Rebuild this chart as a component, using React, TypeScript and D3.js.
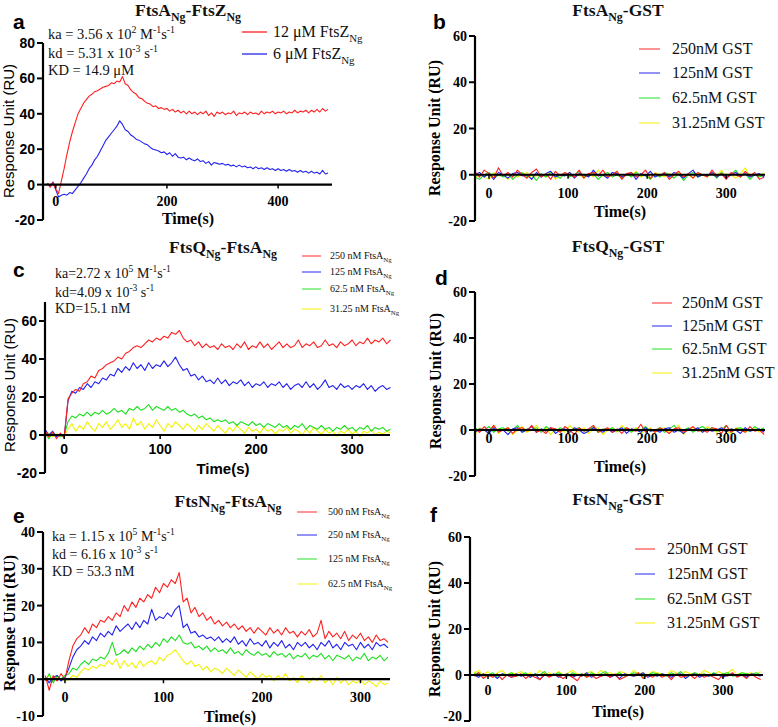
import React from 'react';
import * as d3 from 'd3';

// ---------- DATA ----------
// Panel a: FtsA-FtsZ, t from -15 s, every 5 s
const A_T0 = -15, A_DT = 5;
const aRed12uM = [0.8,-1.5,1.2,-2.5,-5,2,9,17,24,30,35,40,43,46,48,50,51,52.5,53,54,55,55.5,56,57.5,57,58.5,58,61,57,56,53.5,52,51,49,48.5,47,46,45.5,44,44.5,43,43.5,42.5,43,41.5,42.5,41,42,40.5,41.5,40,41.5,40,41,39.5,41,40,41.5,39,40.5,38.5,41,40,41,39.5,40.5,40,41.5,39,40.5,40,41,39.5,41,40,40.5,39.5,41.5,40,41,40.5,41.5,40,41,40.5,41.5,40,41,40.5,42,40.5,41.5,41,42,40.5,42,41,42.5,41,43,41.5,42.5];
const aBlue6uM = [0.5,-1,1.5,-3,-7,-6,-5.5,-6,-4.5,-5,-3,-1,1,3.5,6,9,11,14,16,19,22,25,27,29,31,33,36,34,31,30,28,27,25.5,25,24,23,22.5,21,20,19.5,19,18,18.5,17,18,16,17.5,15.5,15,15.5,14,15,14,13.5,14.5,13,13.5,12,13,11,12.5,12,11.5,12,11,11.5,10.5,11,10,11,10,10.5,9.5,10,9,10,9,9.5,8.5,9.5,8.5,9,8,9,8,8.5,7.5,8.5,7.5,8,7,8,7,7.5,6.5,7.5,6.5,7,6,8,6,6.5];

// Panel c: FtsQ-FtsA, t from -20 s, every 4 s
const C_T0 = -20, C_DT = 4;
const c250 = [2,-1,1.5,-2,1,-1.5,19,22,24,23,27,28,31,30,34,35,37,38,39,41,40,43,44,46,47,46,48,50,49,51,50,52,51,54,53,55,51,49,50,47,49,46,48,46,47,45,48,46,47,45,48,46,49,45,47,46,49,46,48,45,47,49,46,48,46,47,50,46,48,47,49,46,47,50,47,48,46,49,47,48,50,47,49,48,51,48,50,49,51,48,50];
const c125 = [3,0,2,-1,0.5,-1,18,23,22,25,24,27,25,28,27,30,29,32,31,35,33,36,34,38,35,37,34,38,35,37,36,39,36,38,41,37,34,35,31,32,29,31,28,29,27,30,27,29,26,28,27,29,26,28,25,27,26,28,25,27,26,28,25,27,24,26,27,25,28,25,27,24,26,29,25,26,24,27,25,26,24,26,25,27,24,26,23,25,26,24,25];
const c62 = [1,-2,1,0,-1,0,7,10,9,11,10,12,10,12,11,13,11,12,14,12,13,11,14,13,15,13,14,16,13,15,14,13,15,13,14,12,13,11,10,11,9,10,8,9,7,8,7,8,6,7,5,7,6,5,7,5,6,4,6,5,4,6,4,5,3,5,4,6,3,5,4,3,5,3,4,2,4,3,5,3,4,2,4,3,5,2,4,3,4,2,3];
const c31 = [0,1,-1,0.5,0,-0.5,3,6,2,5,3,7,4,2,6,4,7,3,5,8,4,6,3,9,5,7,3,6,4,8,5,2,6,4,7,5,3,6,4,2,5,3,6,4,2,5,3,1,4,2,5,3,1,4,2,3,1,4,2,3,0.5,3,2,4,1,3,2,0,3,1,4,2,0.5,3,1,2,-0.5,2,1,3,0.5,2,-1,2,1,3,0,1.5,0.5,2,1];

// Panel e: FtsN-FtsA, t from -20 s, every 4 s
const E_T0 = -20, E_DT = 4;
const e500 = [1,-3,1,-0.5,1.5,0,5,9,11,12,14,12.5,15,14,16,15.5,17,16,18,17,20,18.5,21,19.5,22,21,23,22,25,23.5,26,25,27,26,29,21,22,18,19.5,17,18,16,17,15,16,14.5,15.5,14,15,13.5,14.5,13,14,12.5,14,13,12,14,12.5,13.5,12,14,12.5,13,11.5,13,12,13.5,11.5,12.5,16,11,13,11.5,12.5,11,13,10.5,12,11,12.5,10.5,11.5,10,12,10.5,11,10];
const e250 = [0.5,-1,0.5,1,-0.5,0.5,3,6,8,9,10.5,9.5,11.5,10.5,12.5,11.5,13,12,14.5,13,14,15,13.5,15.5,14,16,15,19,16,17,16.5,18,17,19,20,14,15,12.5,13,11.5,12,11,11.5,10.5,11.5,10,11,10,11.5,9.5,10.5,9,11,9.5,10,9,10.5,8.5,10,9,10.5,8.5,9.5,8,10,9,10,8.5,9.5,8,10,9,10.5,8.5,9.5,8,10,9,9.5,8,10,8.5,9.5,8,10,9,9.5,8.5];
const e125 = [-0.5,1.5,-1,1,0,1,1.5,3,2.5,4,5,4,5.5,5,6,5.5,7,10,6.5,7,8,7,8.5,7.5,9,8,9.5,8.5,10,9,11,10,11.5,10.5,12,10,9.5,10,8.5,9,8,9,7.5,8.5,7.5,8,7,8.5,7,7.5,6.5,8,7,6.5,7.5,6.5,7,6,7.5,6.5,7,6,7,5.5,6.5,6,7,5.5,6.5,6,7,5.5,6.5,5,6.5,6,5.5,6.5,5,6,5.5,7,5,6,5.5,6.5,5,6];
const e62 = [0,1,-0.5,0.5,0,-0.5,0,1,0.5,2,3,2.5,3.5,3,4,3.5,5,4,5.5,3,5,3.5,4.5,3,5,3.5,4.5,5,4,6,5,6.5,7,8,6.5,5,4,5,3.5,4,2.5,3.5,2,3,2.5,1.5,3,2,1,2.5,1.5,0.5,2,1,0,1.5,0.5,1,-0.5,1,0,1.5,-0.5,0.5,-1,1,0,-1,0.5,-0.5,1,-1,0,-1.5,0.5,-1,0,-1.5,-0.5,-1,0,-1.5,-0.5,-1,-2,-0.5,-1.5,-1];

// GST controls, t from -18 s, every 6 s
const G_T0 = -18, G_DT = 6;
const b250 = [1.5,-1,2,0.5,-1.5,3,-0.5,1,-1,2,0,-1.5,1,2.5,-1,0.5,-2,1.5,-0.5,1,0,-1,2,-1.5,0.5,1,-0.5,2,-1,0,1.5,-2,0.5,1,-1,0,2,-1.5,0.5,-0.5,1,-2,0,1.5,-1,0.5,-1.5,1,0,-1,2,-0.5,0.5,-2,1,0,-1,1.5,-0.5,1,-2,-1];
const b125 = [0,1,-1,0.5,-2,1,0,-1.5,0.5,1,-0.5,0,-2,1,-1,0.5,1.5,-1,0,-0.5,1,-1.5,0.5,0,-1,2,-0.5,0,-1.5,1,0.5,-1,0,1,-2,0.5,-0.5,1.5,-1,0,0.5,-1,1,0,-1.5,0.5,2,-1,0,-0.5,1,-1,0.5,-1.5,0,1,-0.5,0.5,-1,0,0.5,-1];
const b62 = [-1,-2,0,1,-1.5,0,-1,0.5,-2,0,1,-1,0,-2.5,0.5,-1,1,0,-1.5,0.5,-1,0,1.5,-1,-0.5,0.5,-2,0,1,-1,0,-1.5,0.5,-1,1,-0.5,0,-2,0.5,-1,1,0,-1.5,0.5,-2.5,0,1,-1,0,-0.5,0.5,-1.5,1,-1,0,2,-1,0.5,-2,0,-1,0];
const b31 = [-1.5,0,-1,-2,1,-0.5,0,-2,0.5,-1,0,1,-1.5,-0.5,0,-1,1.5,-2,0,-0.5,1,-1,0,-1.5,0.5,-1,2,-0.5,-1,0,1,-1.5,0,-0.5,1.5,-1,0,-2,1,0,-1,0.5,-0.5,1,-1,0,-1.5,0.5,0,-1,1,-0.5,2,-1,0,-1.5,0.5,3,-1,0,-0.5,1];
const d250 = [0.5,-1,1.5,-0.5,2,-1,0,1,-1.5,0.5,1,-0.5,2,-1,0,-1.5,1,0.5,-1,1.5,0,-2,1,-0.5,0.5,2,-1,0,1,-1,0.5,-1.5,1,0,-0.5,2.5,-1,0.5,-1,1,0,-1.5,0.5,1,-1,0,1.5,-0.5,0,-1,1,0.5,-1.5,2,-1,0.5,0,-1,1.5,-0.5,0,-2];
const d125 = [-1,0.5,0,-1.5,1,-0.5,0,-2,0.5,1,-1,0,1.5,-1,0.5,-0.5,1,-1.5,0,0.5,-1,1,0,-1.5,-0.5,1,0,-1,0.5,-1,0,1,-1.5,0.5,0,-1,1,-0.5,0,-1,0.5,1,-1,0,-1.5,0.5,0,1,-1,0.5,-0.5,0,1,-1,0.5,0,-1.5,1,-0.5,0,0.5,-1];
const d62 = [1,-0.5,0,1.5,-1,0.5,1,-0.5,0,2,-1,0.5,0,1,-1,1.5,0,-0.5,1,0,-1,0.5,1,-0.5,0,1.5,-1,0.5,0,1,-0.5,0,1,-1,0.5,0,1.5,-0.5,0,1,-1,0.5,2,-0.5,0,1,-1,0.5,1.5,0,1,-0.5,0,2,-1,0.5,1,0,-0.5,1.5,0,1];
const d31 = [-2,1,0,-1,2,-1.5,0.5,1,-2,0,1.5,-1,0,2,-0.5,1,-2,0.5,0,-1,2,0,-1,1,-1.5,0.5,1,-2,0,1,-1,2,0,-0.5,1,-1.5,0,1,-1,0.5,1,-1,0,2,-2,0.5,1,0,-1,1.5,0,-1,1,0,-2,1,0.5,-1,0,1,-1,0];
const f250 = [-0.5,1,-1.5,0,-1,0.5,-2,0,-1,-0.5,0.5,-1.5,0,-1,-2,0.5,-1,0,-0.5,-1.5,0,-1,-2.5,0.5,-1,0,-1.5,-0.5,0,-1,0.5,-2,-1,0,-0.5,1,-1.5,0,-1,0.5,-1,0,-2,0.5,-1,-0.5,0,-1.5,0.5,-1,0,-1,-2,0,-0.5,1,-1,0,-1.5,0.5,-1,-2];
const f125 = [0,-1,0.5,-0.5,0,-1.5,0.5,0,-1,0.5,-0.5,0,-1,0.5,-2,0,-0.5,0.5,-1,0,0.5,-1,0,-0.5,1,-1,0,-0.5,0.5,-1,0,-1.5,0.5,0,-0.5,0,1,-1,0,-0.5,0.5,0,-1,0,0.5,-1.5,0,0.5,-1,0,-0.5,0.5,0,-1,0,0.5,-0.5,0,-1,0.5,0,-0.5];
const f62 = [0.5,1,-0.5,0,1,-1,0.5,0,1,-0.5,0,1,-1,0.5,0,1.5,-0.5,0,1,0,-0.5,1,0,0.5,-1,1,0,0.5,1.5,-0.5,0,1,-0.5,0,1,0.5,-1,0,1,0.5,0,-0.5,1,0,1.5,-0.5,0,1,0,0.5,-0.5,1,0,0.5,1,-0.5,0,1,0.5,0,1,0];
const f31 = [1,2,0,1.5,-0.5,1,2,0,1,0.5,1.5,0,1,-0.5,2,0.5,1,0,1.5,0,1,2,0.5,0,1,1.5,0,2,0.5,1,0,1.5,1,0,2,0.5,1,0,1.5,1,0.5,0,2,1,0,1.5,0.5,1,0,2,1,0,1.5,0.5,1,2.5,0,1,0.5,1,0,1.5];

// labels & ticks
const aLegend = ['12 μM FtsZ', '6 μM FtsZ'];
const cLegend = ['250 nM FtsA', '125 nM FtsA', '62.5 nM FtsA', '31.25 nM FtsA'];
const eLegend = ['500 nM FtsA', '250 nM FtsA', '125 nM FtsA', '62.5 nM FtsA'];
const gstLegend = ['250nM GST', '125nM GST', '62.5nM GST', '31.25nM GST'];
const aXTicks = [0, 200, 400];
const aYTicks = [-20, 0, 20, 40, 60, 80];
const xTicks300 = [0, 100, 200, 300];
const gstYTicks = [-20, 0, 20, 40, 60];
const eYTicks = [-10, 0, 10, 20, 30, 40];

// ---------- STYLE ----------
const RED = '#ff2020';
const BLUE = '#2222f0';
const GREEN = '#1ee01e';
const YELLOW = '#f2f200';
const SERIF = '"Liberation Serif", "Times New Roman", serif';
const SANS = '"Liberation Sans", Arial, sans-serif';

type Seg = [string, number];

function Rich({ x, y, segs, size, family, weight, anchor, transform }: any) {
  let prev = 0;
  return (
    <text x={x} y={y} fontSize={size} fontFamily={family} fontWeight={weight || 'normal'} textAnchor={anchor || 'start'} transform={transform} fill="#111">
      {segs.map(([s, k]: Seg, i: number) => {
        const off = k === 1 ? -0.4 * size : k === -1 ? 0.3 * size : 0;
        const dy = off - prev;
        prev = off;
        return (
          <tspan key={i} dy={dy} fontSize={k ? size * 0.68 : size}>{s}</tspan>
        );
      })}
    </text>
  );
}

function Panel({ cfg }: { cfg: any }) {
  const x = d3.scaleLinear().domain(cfg.xDomain).range(cfg.xRange);
  const y = d3.scaleLinear().domain(cfg.yDomain).range(cfg.yRange);
  const axX = cfg.xRange[0];
  const y0 = y(0);
  const drawOrder = [...cfg.series].reverse();
  return (
    <g>
      <text x={cfg.letter[1]} y={cfg.letter[2]} fontFamily={SANS} fontWeight="bold" fontSize={21} fill="#000">{cfg.letter[0]}</text>
      <Rich x={cfg.title.x} y={cfg.title.y} segs={cfg.title.segs} size={17.5} family={SERIF} weight="bold" anchor="middle" />
      {cfg.notes && cfg.notes.lines.map((segs: Seg[], i: number) => (
        <Rich key={i} x={cfg.notes.x} y={cfg.notes.ys[i]} segs={segs} size={cfg.notes.size} family={SERIF} />
      ))}
      {/* data */}
      {drawOrder.map((s: any, i: number) => {
        const line = d3.line<number>()
          .x((_, j) => x(s.t0 + j * s.dt))
          .y((v) => y(v));
        return <path key={i} d={line(s.values) || ''} fill="none" stroke={s.color} strokeWidth={1.1} strokeLinejoin="round" />;
      })}
      {/* y axis */}
      <line x1={axX} x2={axX} y1={cfg.yRange[0]} y2={cfg.yRange[1]} stroke="#000" strokeWidth={2.2} />
      {cfg.yTicks.map((t: number) => (
        <g key={t}>
          <line x1={axX - 6} x2={axX} y1={y(t)} y2={y(t)} stroke="#000" strokeWidth={2} />
          <text x={axX - 8} y={Math.min(y(t) + 5, 721)} textAnchor="end" fontFamily={cfg.yTickFont} fontWeight="bold" fontSize={14} fill="#000">{t}</text>
        </g>
      ))}
      {/* x axis at zero */}
      <line x1={axX} x2={cfg.xRange[1]} y1={y0} y2={y0} stroke="#000" strokeWidth={2.2} />
      {cfg.xTicks.map((t: number) => (
        <g key={t}>
          <line x1={x(t)} x2={x(t)} y1={y0} y2={y0 + 4} stroke="#000" strokeWidth={1.5} />
          <text x={x(t)} y={y0 + cfg.xLabelDy} textAnchor="middle" fontFamily={cfg.xTickFont} fontWeight="bold" fontSize={14} fill="#000">{t}</text>
        </g>
      ))}
      {/* axis titles */}
      <text transform={`translate(${cfg.yLabel.x},${cfg.yLabel.y}) rotate(-90)`} textAnchor="middle" fontFamily={cfg.yLabel.font} fontWeight={cfg.yLabel.weight} fontSize={cfg.yLabel.size} fill="#000">Response Unit (RU)</text>
      <text x={cfg.xLabel.x} y={cfg.xLabel.y} textAnchor="middle" fontFamily={cfg.xLabel.font} fontWeight="bold" fontSize={cfg.xLabel.size} fill="#000">Time(s)</text>
      {/* legend */}
      {cfg.series.map((s: any, i: number) => {
        const ly = cfg.legend.ys[i];
        return (
          <g key={i}>
            <line x1={cfg.legend.x1} x2={cfg.legend.x2} y1={ly} y2={ly} stroke={s.color} strokeWidth={1.3} opacity={cfg.legend.opacity} />
            <Rich x={cfg.legend.tx} y={ly + cfg.legend.size * 0.33} segs={s.sub ? [[s.label, 0], ['Ng', -1]] : [[s.label, 0]]} size={cfg.legend.size} family={SERIF} />
          </g>
        );
      })}
    </g>
  );
}

const mk = (labels: string[], vals: number[][], t0: number, dt: number, sub: boolean) => {
  const colors = [RED, BLUE, GREEN, YELLOW];
  return vals.map((v, i) => ({ label: labels[i], sub, color: colors[i], values: v, t0, dt }));
};

const panels = [
  {
    letter: ['a', 13, 29],
    title: { x: 188, y: 16, segs: [['FtsA', 0], ['Ng', -1], ['-FtsZ', 0], ['Ng', -1]] },
    xRange: [43, 332], xDomain: [-23, 497], yRange: [220, 43], yDomain: [-20, 80],
    xTicks: aXTicks, yTicks: aYTicks, xTickFont: SERIF, yTickFont: SANS, xLabelDy: 21,
    yLabel: { x: 14, y: 131, font: SANS, weight: 'normal', size: 15 },
    xLabel: { x: 188, y: 224, font: SERIF, size: 16 },
    notes: { x: 48, ys: [39, 58, 75], size: 14.5, lines: [
      [['ka = 3.56 x 10', 0], ['2', 1], [' M', 0], ['-1', 1], ['s', 0], ['-1', 1]],
      [['kd = 5.31 x 10', 0], ['-3', 1], [' s', 0], ['-1', 1]],
      [['KD = 14.9 μM', 0]],
    ] },
    legend: { x1: 242, x2: 267, tx: 273, ys: [32, 54], size: 16, opacity: 1 },
    series: mk(aLegend, [aRed12uM, aBlue6uM], A_T0, A_DT, true),
  },
  {
    letter: ['b', 433, 29],
    title: { x: 618, y: 16, segs: [['FtsA', 0], ['Ng', -1], ['-GST', 0]] },
    xRange: [475, 765], xDomain: [-17.7, 349], yRange: [221, 36], yDomain: [-20, 60],
    xTicks: xTicks300, yTicks: gstYTicks, xTickFont: SERIF, yTickFont: SERIF, xLabelDy: 23,
    yLabel: { x: 440, y: 128, font: SERIF, weight: 'bold', size: 16 },
    xLabel: { x: 620, y: 217, font: SERIF, size: 16 },
    legend: { x1: 639, x2: 660, tx: 672, ys: [49, 73, 98, 123], size: 16, opacity: 0.75 },
    series: mk(gstLegend, [b250, b125, b62, b31], G_T0, G_DT, false),
  },
  {
    letter: ['c', 13, 277],
    title: { x: 223, y: 253, segs: [['FtsQ', 0], ['Ng', -1], ['-FtsA', 0], ['Ng', -1]] },
    xRange: [45, 390], xDomain: [-20, 339.5], yRange: [473, 302], yDomain: [-20, 70],
    xTicks: xTicks300, yTicks: gstYTicks, xTickFont: SANS, yTickFont: SANS, xLabelDy: 19,
    yLabel: { x: 15, y: 385, font: SANS, weight: 'normal', size: 15 },
    xLabel: { x: 223, y: 474, font: SANS, size: 15 },
    notes: { x: 55, ys: [278, 297, 313], size: 14, lines: [
      [['ka=2.72 x 10', 0], ['5', 1], [' M', 0], ['-1', 1], ['s', 0], ['-1', 1]],
      [['kd=4.09 x 10', 0], ['-3', 1], [' s', 0], ['-1', 1]],
      [['KD=15.1 nM', 0]],
    ] },
    legend: { x1: 302, x2: 321, tx: 330, ys: [256, 272, 289, 309], size: 10, opacity: 0.75 },
    series: mk(cLegend, [c250, c125, c62, c31], C_T0, C_DT, true),
  },
  {
    letter: ['d', 435, 285],
    title: { x: 618, y: 252, segs: [['FtsQ', 0], ['Ng', -1], ['-GST', 0]] },
    xRange: [475, 765], xDomain: [-17.7, 349], yRange: [476, 292], yDomain: [-20, 60],
    xTicks: xTicks300, yTicks: gstYTicks, xTickFont: SERIF, yTickFont: SERIF, xLabelDy: 13,
    yLabel: { x: 441, y: 381, font: SERIF, weight: 'bold', size: 16 },
    xLabel: { x: 620, y: 472, font: SERIF, size: 16 },
    legend: { x1: 652, x2: 672, tx: 682, ys: [303, 326, 349, 373], size: 16, opacity: 0.75 },
    series: mk(gstLegend, [d250, d125, d62, d31], G_T0, G_DT, false),
  },
  {
    letter: ['e', 13, 523],
    title: { x: 228, y: 507, segs: [['FtsN', 0], ['Ng', -1], ['-FtsA', 0], ['Ng', -1]] },
    xRange: [43, 390], xDomain: [-22.3, 330], yRange: [716, 532], yDomain: [-10, 40],
    xTicks: xTicks300, yTicks: eYTicks, xTickFont: SERIF, yTickFont: SERIF, xLabelDy: 23,
    yLabel: { x: 15, y: 623, font: SERIF, weight: 'bold', size: 16 },
    xLabel: { x: 230, y: 722, font: SERIF, size: 16 },
    notes: { x: 52, ys: [541, 559, 576], size: 14, lines: [
      [['ka = 1.15 x 10', 0], ['5', 1], [' M', 0], ['-1', 1], ['s', 0], ['-1', 1]],
      [['kd = 6.16 x 10', 0], ['-3', 1], [' s', 0], ['-1', 1]],
      [['KD = 53.3 nM', 0]],
    ] },
    legend: { x1: 297, x2: 317, tx: 328, ys: [512, 535, 559, 584], size: 10, opacity: 0.75 },
    series: mk(eLegend, [e500, e250, e125, e62], E_T0, E_DT, true),
  },
  {
    letter: ['f', 430, 522],
    title: { x: 618, y: 505, segs: [['FtsN', 0], ['Ng', -1], ['-GST', 0]] },
    xRange: [470, 763], xDomain: [-23, 351], yRange: [721, 537], yDomain: [-20, 60],
    xTicks: xTicks300, yTicks: gstYTicks, xTickFont: SERIF, yTickFont: SERIF, xLabelDy: 20,
    yLabel: { x: 440, y: 629, font: SERIF, weight: 'bold', size: 16 },
    xLabel: { x: 618, y: 717, font: SERIF, size: 16 },
    legend: { x1: 635, x2: 655, tx: 667, ys: [549, 574, 599, 623], size: 16, opacity: 0.75 },
    series: mk(gstLegend, [f250, f125, f62, f31], G_T0, G_DT, false),
  },
];

export default function App() {
  return (
    <svg width={778} height={727} style={{ position: 'absolute', left: 0, top: 0, background: '#fff' }}>
      <rect width={778} height={727} fill="#fff" />
      {panels.map((p, i) => <Panel key={i} cfg={p} />)}
    </svg>
  );
}
